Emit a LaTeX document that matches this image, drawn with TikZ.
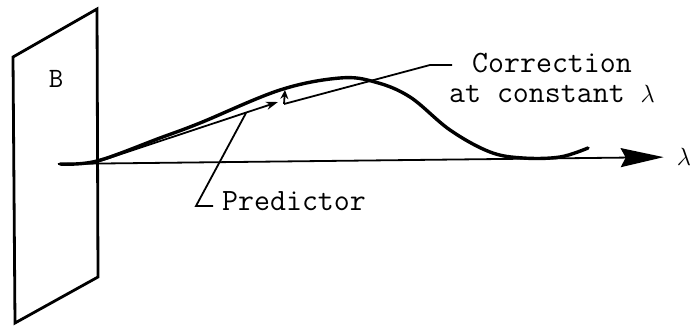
\documentclass[tikz,border=0pt]{standalone}
\usetikzlibrary{arrows.meta,positioning}
\begin{document}
\begin{tikzpicture}[x=1pt, y=-1pt,
  plane/.style={line width=2.8pt, line join=miter},
  axis/.style={line width=1.8pt, -{Stealth[length=43pt, width=19pt, inset=5pt]}},
  curve/.style={line width=3.4pt, line cap=round},
  lead/.style={line width=1.8pt},
  arr/.style={line width=1.8pt, -{Stealth[length=12pt, width=8pt]}},
  lbl/.style={font=\fontsize{31}{30}\selectfont\ttfamily, inner sep=0pt}]
\useasboundingbox (0,0) rectangle (693,326);
% boundary plane
\draw[plane] (13,57) -- (97,9) -- (98,277) -- (15,323) -- cycle;
\node[lbl, font=\fontsize{28}{28}\selectfont\ttfamily] (B) at (56,79) {B};
% lambda axis
\coordinate (start) at (58,164);
\coordinate (o) at (97,162);
\node[inner sep=0pt, font=\fontsize{27}{27}\selectfont] (lam) at (684,157) {$\lambda$};
\draw[axis, shorten >=13pt] (start) -- (lam.west);
% solution path
\draw[curve] plot[smooth, tension=0.6] coordinates {(60,164) (97,161) (160,138)
  (200,123) (280,90) (340,78) (375,82) (410,97) (450,130) (490,152) (523,158)
  (560,157) (588,148)};
% predictor step
\coordinate (pe) at (278,102);
\draw[arr] (o) -- (pe);
% corrector step
\coordinate (cs) at (284,104);
\coordinate (ce) at (285,90);
\draw[arr, -{Stealth[length=9pt, width=8pt]}] (cs) -- (ce);
% labels
\node[lbl, anchor=base, align=center] (corr) at (552,103)
  {Correction\\at constant $\lambda$};
\coordinate (cbend) at (430,65);
\coordinate (cend) at (452,65);
\draw[lead] (cs) -- (cbend) -- (cend);
\node[lbl, anchor=base west] (pred) at (222,210) {Predictor};
\coordinate (pk) at (246,113);
\coordinate (pbend) at (196,206);
\coordinate (pend) at (213,206);
\draw[lead] (pk) -- (pbend) -- (pend);
\end{tikzpicture}
\end{document}
